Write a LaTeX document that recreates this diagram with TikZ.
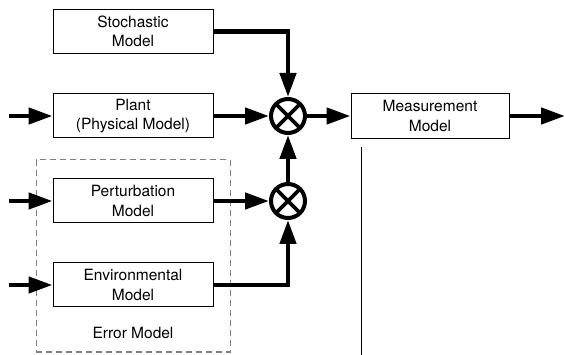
\documentclass[tikz,border=0pt]{standalone}
\usepackage{fontspec}
\setmainfont{TeX Gyre Heros}
\usetikzlibrary{arrows.meta}
\begin{document}
\begin{tikzpicture}[x=1pt,y=-1pt,
  txt/.style={font=\fontsize{15.5}{19.5}\selectfont},
  blk/.style={draw, line width=1pt, minimum width=160pt, minimum height=44pt, align=center, txt, inner sep=0pt},
  mult/.style={draw, circle, line width=4pt, minimum size=34pt, inner sep=0pt,
     path picture={\draw[line width=3.8pt] (path picture bounding box.north west) -- (path picture bounding box.south east) (path picture bounding box.north east) -- (path picture bounding box.south west);}},
  flow/.style={line width=4.5pt, -{Triangle[length=24pt,width=16pt]}},
  wire/.style={line width=4.5pt}]
\useasboundingbox (0,0) rectangle (565,355);
\node[draw, dash pattern=on 6pt off 4pt, gray, line width=1pt, minimum width=194pt, minimum height=192pt, inner sep=0pt] (err) at (133,256) {};
\node[blk] (sto) at (133,31.5) {Stochastic\\Model};
\node[blk] (pla) at (133,116) {Plant\\(Physical Model)};
\node[blk] (per) at (133,201) {Perturbation\\Model};
\node[blk] (env) at (133,285) {Environmental\\Model};
\node[txt] (errl) at (133,333) {Error Model};
\node[mult] (m1) at (288,116) {};
\node[mult] (m2) at (288,201) {};
\node[blk, minimum width=158pt, minimum height=45pt] (mea) at (430,116) {Measurement\\Model};
\coordinate (i1) at (9,116);
\coordinate (i2) at (9,201);
\coordinate (i3) at (9,285);
\coordinate (out) at (565,116);
\coordinate (vt) at (361.5,147);
\coordinate (vb) at (361.5,355);
\draw[flow] (i1) -- (pla.west);
\draw[flow] (i2) -- (per.west);
\draw[flow] (i3) -- (env.west);
\draw[flow] (pla.east) -- (m1.west);
\draw[flow] (per.east) -- (m2.west);
\draw[flow] (sto.east) -| (m1.north);
\draw[flow] (env.east) -| (m2.south);
\draw[flow] (m2.north) -- (m1.south);
\draw[flow] (m1.east) -- (mea.west);
\draw[flow] (mea.east) -- (out);
\draw[line width=1.2pt] (vt) -- (vb);
\end{tikzpicture}
\end{document}
